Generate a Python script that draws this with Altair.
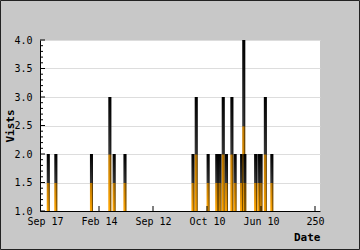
import altair as alt
import pandas as pd

# ---- data ----
bar_idx = [3, 10, 43, 60, 64, 74, 137, 140, 151, 159, 160, 162, 165, 168,
           173, 176, 182, 184, 185, 195, 198, 200, 204, 210]
bar_val = [2, 2, 2, 3, 2, 2, 2, 3, 2, 2, 2, 2, 3, 2,
           3, 2, 2, 4, 2, 2, 2, 2, 3, 2]

x_tick_vals = [0, 50, 100, 150, 200, 250]
x_tick_labels = ["Sep 17", "Feb 14", "Sep 12", "Oct 10", "Jun 10", "250"]
y_major = [1.0, 1.5, 2.0, 2.5, 3.0, 3.5, 4.0]
y_minor = [1.1, 1.2, 1.3, 1.4, 1.6, 1.7, 1.8, 1.9, 2.1, 2.2, 2.3, 2.4,
           2.6, 2.7, 2.8, 2.9, 3.1, 3.2, 3.3, 3.4, 3.6, 3.7, 3.8, 3.9]

bars_df = pd.DataFrame({"idx": bar_idx, "v": bar_val})

FONT = "DejaVu Sans Mono"

label_expr = ""
for v, lab in zip(x_tick_vals, x_tick_labels):
    label_expr += f"datum.value == {v} ? '{lab}' : "
label_expr += "datum.label"

xscale = alt.Scale(domain=[0, 250], nice=False, zero=False)
yscale = alt.Scale(domain=[1, 4], nice=False, zero=False)

xaxis = alt.Axis(
    values=x_tick_vals, labelExpr=label_expr, grid=False, ticks=False,
    domainColor="black", labelFont=FONT, labelFontSize=10,
    labelColor="black", labelPadding=5, labelFlush=False,
    labelOverlap=False, title="Date", titleFont=FONT,
    titleFontSize=11, titleFontWeight="bold", titleColor="black",
    titleX=280, titleY=29, titleAlign="right",
    titleBaseline="alphabetic",
)
yaxis = alt.Axis(
    values=y_major, format=".1f", grid=True, gridColor="#dddddd",
    ticks=False, labelPadding=8, domainColor="black",
    labelFont=FONT, labelFontSize=10, labelColor="black",
    labelFlush=False, labelOverlap=False,
    title="Vists", titleFont=FONT, titleFontSize=11,
    titleFontWeight="bold", titleColor="black",
    titleX=-27, titleY=85.5, titleAngle=270, titleAlign="center",
    titleBaseline="alphabetic",
)

grad = alt.LinearGradient(
    gradient="linear",
    stops=[
        alt.GradientStop(color="#ffa500", offset=0),
        alt.GradientStop(color="#c07a00", offset=0.49),
        alt.GradientStop(color="#383838", offset=0.5),
        alt.GradientStop(color="#000000", offset=1),
    ],
    x1=0, x2=0, y1=1, y2=0,
)

bars = alt.Chart(bars_df).mark_bar(size=3, fill=grad, clip=True).encode(
    x=alt.X("idx:Q", scale=xscale, axis=xaxis),
    y=alt.Y("v:Q", scale=yscale, axis=yaxis),
    y2=alt.datum(1),
)
edges = alt.Chart(bars_df).mark_bar(
    size=1, xOffset=1, color="black", opacity=0.55, clip=True
).encode(
    x=alt.X("idx:Q", scale=xscale, axis=xaxis),
    y=alt.Y("v:Q", scale=yscale, axis=yaxis),
    y2=alt.datum(1),
)

ymaj = alt.Chart(pd.DataFrame({"v": y_major})).mark_rule(color="black").encode(
    y=alt.Y("v:Q", scale=yscale, axis=yaxis), x=alt.value(0), x2=alt.value(5)
)
ymin = alt.Chart(pd.DataFrame({"v": y_minor})).mark_rule(color="black").encode(
    y=alt.Y("v:Q", scale=yscale, axis=yaxis), x=alt.value(0), x2=alt.value(3)
)
xt = alt.Chart(pd.DataFrame({"idx": x_tick_vals[1:]})).mark_rule(color="black").encode(
    x=alt.X("idx:Q", scale=xscale, axis=xaxis), y=alt.value(171), y2=alt.value(166)
)
frame = alt.Chart(pd.DataFrame({"a": [0]})).mark_rect(
    fillOpacity=0, stroke="#222222", strokeWidth=1
).encode(
    x=alt.value(-39.5), x2=alt.value(319.5), y=alt.value(-39.5), y2=alt.value(209.5)
)

chart = alt.layer(bars, edges, ymaj, ymin, xt, frame).properties(
    width=280, height=171,
    autosize=alt.AutoSizeParams(type="none"),
    padding={"left": 40, "top": 40, "right": 40, "bottom": 39},
    background="#c8c8c8",
).configure_view(fill="white", strokeWidth=0)

chart.save("out.html", embed_options={"renderer": "svg", "actions": False})
